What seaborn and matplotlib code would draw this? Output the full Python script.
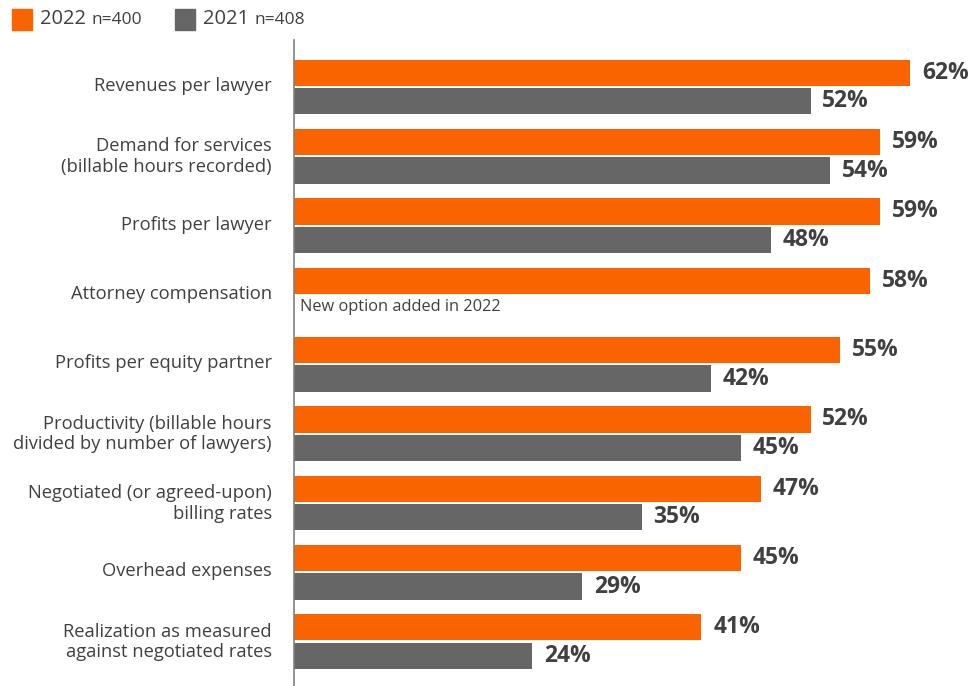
import matplotlib
matplotlib.use("Agg")
import matplotlib.pyplot as plt
import matplotlib.patches as mpatches
import matplotlib.transforms as mtransforms
import numpy as np
import pandas as pd
import seaborn as sns

categories = [
    "Revenues per lawyer",
    "Demand for services\n(billable hours recorded)",
    "Profits per lawyer",
    "Attorney compensation",
    "Profits per equity partner",
    "Productivity (billable hours\ndivided by number of lawyers)",
    "Negotiated (or agreed-upon)\nbilling rates",
    "Overhead expenses",
    "Realization as measured\nagainst negotiated rates",
]
values_2022 = [62, 59, 59, 58, 55, 52, 47, 45, 41]
values_2021 = [52, 54, 48, np.nan, 42, 45, 35, 29, 24]
series = ["2022", "2021"]
sample_sizes = ["n=400", "n=408"]

ORANGE = "#FA6400"
GREY = "#666666"
TEXT = "#404040"

sns.set_theme(style="white")
plt.rcParams["font.family"] = ["Open Sans", "DejaVu Sans"]

df = pd.DataFrame({
    "category": categories * 2,
    "value": values_2022 + values_2021,
    "year": [series[0]] * len(categories) + [series[1]] * len(categories),
})

fig = plt.figure(figsize=(9.8, 6.86), dpi=100)
ax = fig.add_axes([294 / 980, 0, 1 - 294 / 980, 1 - 40 / 686])

sns.barplot(
    data=df, y="category", x="value", hue="year", order=categories,
    hue_order=series, palette=[ORANGE, GREY], orient="h",
    width=0.82, gap=0.08, saturation=1, ax=ax, legend=False, errorbar=None,
    linewidth=0,
)

ax.set_xlim(0, 69.05)
ax.set_ylim(8.64, -0.678)
ax.set_xlabel("")
ax.set_ylabel("")
ax.set_xticks([])
ax.tick_params(axis="y", length=0, pad=16, labelsize=13.2, labelcolor=TEXT)
lift = mtransforms.ScaledTranslation(0, 3 / 100, fig.dpi_scale_trans)
for lbl in ax.get_yticklabels():
    lbl.set_transform(lbl.get_transform() + lift)
for s in ["top", "right", "bottom"]:
    ax.spines[s].set_visible(False)
ax.spines["left"].set_color("#808080")
ax.spines["left"].set_linewidth(1.2)

# value labels at the end of each bar
for container in ax.containers:
    labels = ["" if np.isnan(v) else f"{v:.0f}%" for v in container.datavalues]
    ax.bar_label(container, labels=labels, padding=8.5, fontsize=16.5,
                 fontweight="bold", color=TEXT)

# note for the option without a 2021 value
idx = categories.index("Attorney compensation")
ax.text(0.6, idx + 0.18, "New option added in 2022", ha="left", va="center",
        fontsize=11.8, color=TEXT)

# legend
for x0, col, yr, n in [(12, ORANGE, series[0], sample_sizes[0]),
                       (175, GREY, series[1], sample_sizes[1])]:
    fig.patches.append(mpatches.Rectangle(
        (x0 / 980, 1 - 30 / 686), 20 / 980, 21 / 686,
        transform=fig.transFigure, color=col))
    t = fig.text((x0 + 28) / 980, 1 - 19 / 686, yr, fontsize=14.5,
                 color=TEXT, va="center", ha="left")
    fig.canvas.draw()
    bb = t.get_window_extent()
    fig.text((bb.x1 + 5) / 980, 1 - 19.5 / 686, n, fontsize=12.5,
             color=TEXT, va="center", ha="left")

fig.savefig("out.png", dpi=100)
